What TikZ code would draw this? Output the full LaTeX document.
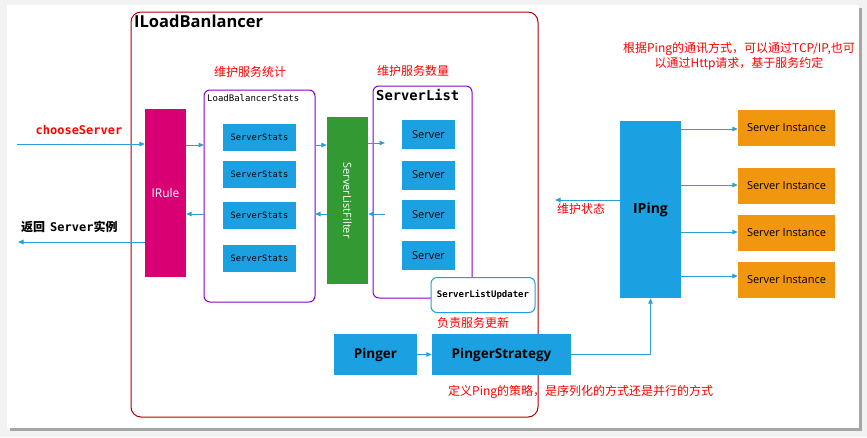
\documentclass[tikz,border=0pt]{standalone}
\usepackage{fontspec}
\newfontfamily\cjk{Noto Sans CJK SC}
\newfontfamily\lat{Open Sans}
\setmonofont{DejaVu Sans Mono}
\usetikzlibrary{arrows.meta}
\definecolor{mblue}{HTML}{1BA1E2}
\definecolor{arrblue}{HTML}{2A9FD8}
\definecolor{mmag}{HTML}{D80073}
\definecolor{mgreen}{HTML}{339933}
\definecolor{morange}{HTML}{F0960F}
\definecolor{mpurple}{HTML}{8A00C8}
\definecolor{mdred}{HTML}{B00000}
\definecolor{mred}{HTML}{FF0000}
\begin{document}
\begin{tikzpicture}[x=1pt,y=-1pt,
  fill box/.style={rectangle, inner sep=0pt, draw=none},
  bluebox/.style={fill box, fill=mblue},
  orbox/.style={fill box, fill=morange, minimum width=97, minimum height=36,
     font=\lat\fontsize{11}{13}\selectfont, text=black},
  ssbox/.style={bluebox, minimum width=73, minimum height=27,
     font=\ttfamily\fontsize{8.7}{10}\selectfont, text=black},
  srvbox/.style={bluebox, minimum width=53, minimum height=29,
     font=\lat\fontsize{11}{13}\selectfont, text=black},
  redtxt/.style={inner sep=0pt, text=mred, font=\cjk\fontsize{12}{14}\selectfont},
  arr/.style={draw=arrblue, line width=1pt, -{Triangle[length=5.5pt,width=4.5pt]}},
]
\useasboundingbox (0,0) rectangle (867,437);
% page background and shadow
\fill[white!95!black] (0,0) rectangle (867,437);
\fill[black!35] (10,8) rectangle (862,431);
\fill[white] (7,5) rectangle (859,428);

% ILoadBanlancer container
\draw[mdred, line width=1pt, rounded corners=10pt] (131,12) rectangle (538,417);
\node[anchor=north west, inner sep=0pt, font=\lat\bfseries\fontsize{16.5}{20}\selectfont] (lbt) at (134,15) {ILoadBanlancer};

% LoadBalancerStats
\node[redtxt] (t1) at (250,72) {维护服务统计};
\draw[mpurple, line width=1pt, rounded corners=6pt] (204,90) rectangle (315,302);
\node[anchor=north west, inner sep=0pt, font=\ttfamily\fontsize{9}{10}\selectfont] (lbs) at (207,94) {LoadBalancerStats};
\coordinate (lbsW) at (204,200);
\coordinate (lbsE) at (315,200);
\node[ssbox] (ss1) at (259.5,137.5) {ServerStats};
\node[ssbox] (ss2) at (259.5,174.5) {ServerStats};
\node[ssbox] (ss3) at (259.5,215.5) {ServerStats};
\node[ssbox] (ss4) at (259.5,258.5) {ServerStats};

% IRule
\node[fill box, fill=mmag, minimum width=41, minimum height=168, text=white,
  font=\lat\fontsize{12}{14}\selectfont] (irule) at (165.5,193) {IRule};

% choose server
\node[inner sep=0pt, text=mred, font=\ttfamily\bfseries\fontsize{12}{14}\selectfont] (cs) at (79,130) {chooseServer};
\coordinate (in1) at (17,144);
\draw[arr] (in1) -- (in1 -| irule.west);
\node[anchor=west, inner sep=0pt, font=\fontsize{12}{14}\selectfont] (ret) at (21,227) {{\cjk\bfseries 返回}\hspace{5pt}{\ttfamily\bfseries Server}{\cjk\bfseries 实例}};
\coordinate (out1) at (18,242);
\draw[arr] (irule.west |- out1) -- (out1);

% IRule <-> LBS
\coordinate (yA) at (0,145);
\coordinate (yB) at (0,214);
\draw[arr] (irule.east |- yA) -- (lbsW |- yA);
\draw[arr] (lbsW |- yB) -- (irule.east |- yB);

% ServerListFilter
\node[fill box, fill=mgreen, minimum width=41, minimum height=167] (slf) at (347.5,200.5) {};
\node[rotate=-90, inner sep=0pt, text=white, font=\lat\fontsize{11}{13}\selectfont] (slft) at (slf.center) {ServerListFilter};
\draw[arr] (lbsE |- yA) -- (slf.west |- yA);
\draw[arr] (slf.west |- yB) -- (lbsE |- yB);

% ServerList
\node[redtxt] (t2) at (413,71) {维护服务数量};
\draw[mpurple, line width=1pt, rounded corners=6pt] (373,86) rectangle (472,298);
\node[anchor=north west, inner sep=0pt, font=\ttfamily\bfseries\fontsize{13.8}{16}\selectfont] (slt) at (376,89) {ServerList};
\coordinate (slW) at (385,200);
\node[srvbox] (s1) at (428.5,134.5) {Server};
\node[srvbox] (s2) at (428.5,175) {Server};
\node[srvbox] (s3) at (428.5,214.5) {Server};
\node[srvbox] (s4) at (428.5,255.5) {Server};
\draw[arr] (slf.east |- 0,143) -- (slW |- 0,143);
\draw[arr] (slW |- yB) -- (slf.east |- yB);

% ServerListUpdater
\node[draw=mblue, fill=white, line width=1pt, rounded corners=6pt, minimum width=104, minimum height=35, inner sep=0pt,
  font=\ttfamily\bfseries\fontsize{9}{10}\selectfont] (slu) at (483,295) {ServerListUpdater};
\node[redtxt] (t3) at (473,323) {负责服务更新};

% Pinger and PingerStrategy
\node[bluebox, minimum width=83, minimum height=41, font=\lat\bfseries\fontsize{13.5}{16}\selectfont] (pinger) at (375.5,354.5) {Pinger};
\node[bluebox, minimum width=139, minimum height=41, font=\lat\bfseries\fontsize{13.5}{16}\selectfont] (ps) at (501.5,354.5) {PingerStrategy};
\draw[arr] (pinger.east) -- (ps.west);
\node[redtxt, anchor=west] (t4) at (448,392) {定义Ping的策略，是序列化的方式还是并行的方式};

% IPing
\node[bluebox, minimum width=61, minimum height=177, font=\lat\bfseries\fontsize{14}{16}\selectfont] (iping) at (650.5,209.5) {IPing};
\draw[arr] (ps.east) -| (iping.south);
\coordinate (st) at (555,200);
\draw[arr] (iping.west |- st) -- (st);
\node[redtxt] (t5) at (581,209) {维护状态};

% Server instances
\node[orbox] (si1) at (786.5,128) {Server Instance};
\node[orbox] (si2) at (786.5,186) {Server Instance};
\node[orbox] (si3) at (786.5,233) {Server Instance};
\node[orbox] (si4) at (786.5,280) {Server Instance};
\draw[arr] (iping.east |- 0,129) -- (si1.west |- 0,129);
\draw[arr] (iping.east |- 0,185) -- (si2.west |- 0,185);
\draw[arr] (iping.east |- 0,232) -- (si3.west |- 0,232);
\draw[arr] (iping.east |- 0,276) -- (si4.west |- 0,276);

% top right note
\node[redtxt, align=center, font=\cjk\fontsize{12}{15}\selectfont] (t6) at (739,56) {根据Ping的通讯方式，可以通过TCP/IP,也可\\以通过Http请求，基于服务约定};
\end{tikzpicture}
\end{document}
